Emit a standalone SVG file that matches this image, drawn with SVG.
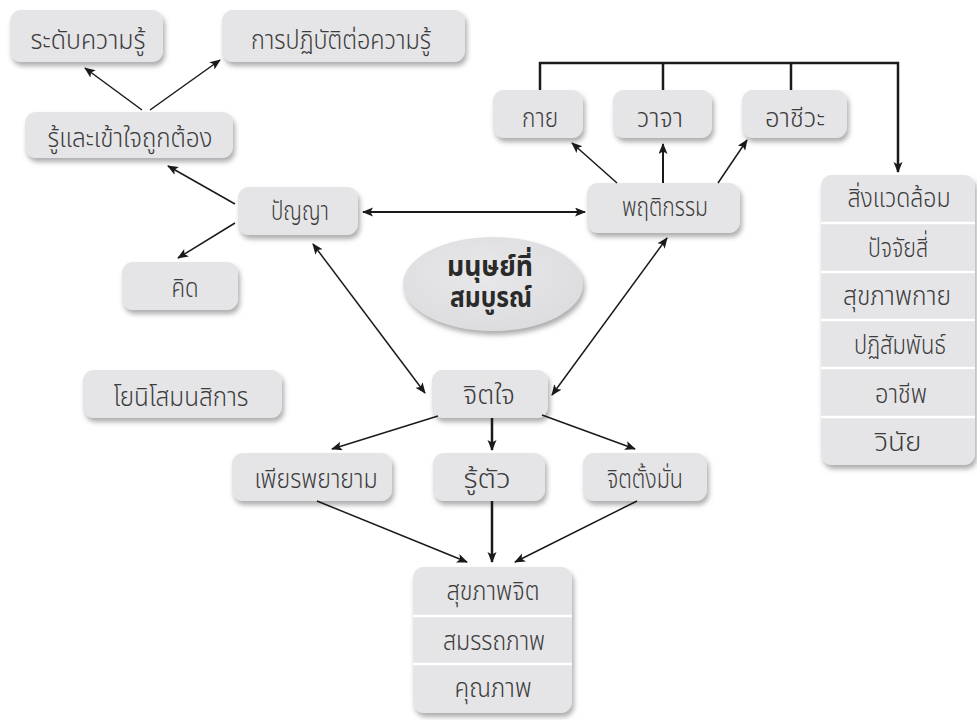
<svg xmlns="http://www.w3.org/2000/svg" width="977" height="720" viewBox="0 0 977 720">
<style>
.bx{fill:#e5e5e7;filter:url(#sh)}
.t{font-family:"Noto Sans Thai","Noto Sans","DejaVu Sans",sans-serif;font-size:27px;font-weight:300;fill:#3c3c3c;text-anchor:middle}
.tb{font-family:"Noto Sans Thai","Noto Sans","DejaVu Sans",sans-serif;font-size:28px;font-weight:bold;fill:#2a2a2a;text-anchor:middle}
.c{fill:none;stroke:#1a1a1a;stroke-width:1.5}
.c2{fill:none;stroke:#1a1a1a;stroke-width:2.5}
.dv{stroke:#fff;stroke-width:2.5}
</style>
<defs>
<filter id="sh" x="-10%" y="-10%" width="125%" height="135%">
<feDropShadow dx="2" dy="4" stdDeviation="2.5" flood-color="#777" flood-opacity="0.6"/>
</filter>
<radialGradient id="eg" cx="0.45" cy="0.4" r="0.65">
<stop offset="0" stop-color="#e8e8ea"/>
<stop offset="1" stop-color="#dcdcde"/>
</radialGradient>
<marker id="ah" markerUnits="userSpaceOnUse" markerWidth="12" markerHeight="10" refX="10" refY="4.5" orient="auto-start-reverse">
<path d="M0,0 L11,4.5 L0,9 L2.5,4.5 z" fill="#1a1a1a"/>
</marker>
</defs>

<g id="n-level"><rect class="bx" x="10" y="10" width="153" height="52" rx="11"/><text class="t" x="88" y="49" textLength="115" lengthAdjust="spacingAndGlyphs">ระดับความรู้</text></g>
<g id="n-practice"><rect class="bx" x="222" y="10" width="243" height="52" rx="11"/><text class="t" x="341" y="49" textLength="180" lengthAdjust="spacingAndGlyphs">การปฏิบัติต่อความรู้</text></g>
<g id="n-understand"><rect class="bx" x="25" y="112" width="208" height="46" rx="11"/><text class="t" x="130" y="147" textLength="165" lengthAdjust="spacingAndGlyphs">รู้และเข้าใจถูกต้อง</text></g>
<g id="n-panya"><rect class="bx" x="238" y="187" width="120" height="48" rx="11"/><text class="t" x="300" y="220" textLength="58" lengthAdjust="spacingAndGlyphs">ปัญญา</text></g>
<g id="n-think"><rect class="bx" x="122" y="262" width="116" height="48" rx="11"/><text class="t" x="185" y="297" textLength="27" lengthAdjust="spacingAndGlyphs">คิด</text></g>
<g id="n-kai"><rect class="bx" x="493" y="90" width="90" height="48" rx="11"/><text class="t" x="540" y="127" textLength="36" lengthAdjust="spacingAndGlyphs">กาย</text></g>
<g id="n-waja"><rect class="bx" x="613" y="90" width="99" height="48" rx="11"/><text class="t" x="660" y="127" textLength="46" lengthAdjust="spacingAndGlyphs">วาจา</text></g>
<g id="n-achiwa"><rect class="bx" x="742" y="90" width="105" height="48" rx="11"/><text class="t" x="795" y="127" textLength="60" lengthAdjust="spacingAndGlyphs">อาชีวะ</text></g>
<g id="n-behavior"><rect class="bx" x="587" y="183" width="153" height="50" rx="11"/><text class="t" x="665" y="216" textLength="86" lengthAdjust="spacingAndGlyphs">พฤติกรรม</text></g>

<g id="n-env">
<rect class="bx" x="821" y="175" width="154" height="290" rx="11"/>
<line class="dv" x1="821" y1="223" x2="975" y2="223"/>
<line class="dv" x1="821" y1="272" x2="975" y2="272"/>
<line class="dv" x1="821" y1="320" x2="975" y2="320"/>
<line class="dv" x1="821" y1="368" x2="975" y2="368"/>
<line class="dv" x1="821" y1="417" x2="975" y2="417"/>
<text class="t" x="899" y="207" textLength="103" lengthAdjust="spacingAndGlyphs">สิ่งแวดล้อม</text>
<text class="t" x="898" y="257" textLength="60" lengthAdjust="spacingAndGlyphs">ปัจจัยสี่</text>
<text class="t" x="897" y="305" textLength="108" lengthAdjust="spacingAndGlyphs">สุขภาพกาย</text>
<text class="t" x="900" y="354" textLength="92" lengthAdjust="spacingAndGlyphs">ปฏิสัมพันธ์</text>
<text class="t" x="901" y="403" textLength="52" lengthAdjust="spacingAndGlyphs">อาชีพ</text>
<text class="t" x="898" y="451" textLength="47" lengthAdjust="spacingAndGlyphs">วินัย</text>
</g>

<g id="n-center"><ellipse cx="493" cy="284" rx="90" ry="47" fill="url(#eg)" filter="url(#sh)"/><text class="tb" x="490" y="276" textLength="86" lengthAdjust="spacingAndGlyphs">มนุษย์ที่</text><text class="tb" x="491" y="307" textLength="82" lengthAdjust="spacingAndGlyphs">สมบูรณ์</text></g>

<g id="n-yoniso"><rect class="bx" x="83" y="370" width="199" height="48" rx="11"/><text class="t" x="181" y="406" textLength="135" lengthAdjust="spacingAndGlyphs">โยนิโสมนสิการ</text></g>
<g id="n-jitjai"><rect class="bx" x="432" y="370" width="116" height="48" rx="11"/><text class="t" x="489" y="404" textLength="52" lengthAdjust="spacingAndGlyphs">จิตใจ</text></g>
<g id="n-effort"><rect class="bx" x="232" y="453" width="160" height="48" rx="11"/><text class="t" x="316" y="488" textLength="123" lengthAdjust="spacingAndGlyphs">เพียรพยายาม</text></g>
<g id="n-aware"><rect class="bx" x="433" y="453" width="112" height="48" rx="11"/><text class="t" x="487" y="488" textLength="47" lengthAdjust="spacingAndGlyphs">รู้ตัว</text></g>
<g id="n-focus"><rect class="bx" x="583" y="453" width="124" height="48" rx="11"/><text class="t" x="645" y="488" textLength="76" lengthAdjust="spacingAndGlyphs">จิตตั้งมั่น</text></g>

<g id="n-health">
<rect class="bx" x="413" y="567" width="159" height="146" rx="11"/>
<line class="dv" x1="413" y1="616" x2="572" y2="616"/>
<line class="dv" x1="413" y1="664" x2="572" y2="664"/>
<text class="t" x="493" y="600" textLength="93" lengthAdjust="spacingAndGlyphs">สุขภาพจิต</text>
<text class="t" x="494" y="650" textLength="102" lengthAdjust="spacingAndGlyphs">สมรรถภาพ</text>
<text class="t" x="493" y="697" textLength="77" lengthAdjust="spacingAndGlyphs">คุณภาพ</text>
</g>

<g id="connectors">
<path class="c2" d="M540,90 V63 H898 V172" marker-end="url(#ah)"/>
<path class="c2" d="M663,90 V63"/>
<path class="c2" d="M791,90 V63"/>
<line class="c" x1="142" y1="110" x2="85" y2="68" marker-end="url(#ah)"/>
<line class="c" x1="150" y1="110" x2="220" y2="60" marker-end="url(#ah)"/>
<line class="c" x1="235" y1="204" x2="168" y2="166" marker-end="url(#ah)"/>
<line class="c" x1="235" y1="223" x2="178" y2="258" marker-end="url(#ah)"/>
<line class="c2" style="stroke-width:2" x1="363" y1="212" x2="585" y2="212" marker-start="url(#ah)" marker-end="url(#ah)"/>
<line class="c" x1="617" y1="183" x2="572" y2="143" marker-end="url(#ah)"/>
<line class="c2" style="stroke-width:2" x1="663" y1="183" x2="663" y2="144" marker-end="url(#ah)"/>
<line class="c" x1="718" y1="183" x2="747" y2="140" marker-end="url(#ah)"/>
<line class="c" x1="313" y1="244" x2="425" y2="393" marker-start="url(#ah)" marker-end="url(#ah)"/>
<line class="c" x1="667" y1="238" x2="552" y2="395" marker-start="url(#ah)" marker-end="url(#ah)"/>
<line class="c" x1="438" y1="416" x2="332" y2="449" marker-end="url(#ah)"/>
<line class="c2" x1="492" y1="418" x2="492" y2="450" marker-end="url(#ah)"/>
<line class="c" x1="542" y1="415" x2="635" y2="449" marker-end="url(#ah)"/>
<line class="c" x1="317" y1="501" x2="467" y2="562" marker-end="url(#ah)"/>
<line class="c2" x1="492" y1="501" x2="492" y2="562" marker-end="url(#ah)"/>
<line class="c" x1="637" y1="501" x2="515" y2="562" marker-end="url(#ah)"/>
</g>
</svg>
